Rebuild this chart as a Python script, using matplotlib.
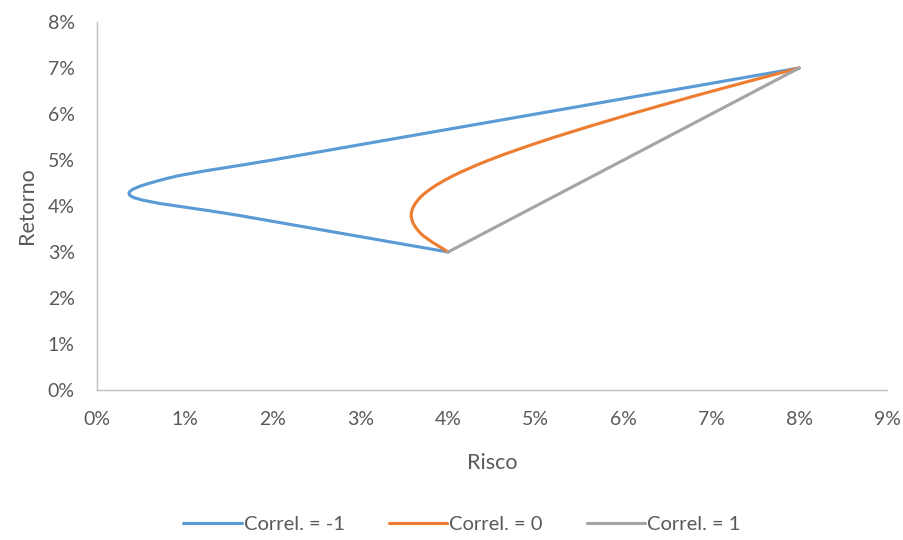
import numpy as np
import matplotlib.pyplot as plt
from matplotlib.path import Path
from matplotlib.patches import PathPatch
from matplotlib.lines import Line2D
from matplotlib.ticker import FuncFormatter

# portfolio points, weight of asset B from 0 to 1 in steps of 0.1 (values in %)
retorno = [3.0, 3.4, 3.8, 4.2, 4.6, 5.0, 5.4, 5.8, 6.2, 6.6, 7.0]
risco_neg = [4.0, 2.8, 1.6, 0.4, 0.8, 2.0, 3.2, 4.4, 5.6, 6.8, 8.0]
risco_zero = [4.0, 3.69, 3.58, 3.69, 4.0, 4.47, 5.06, 5.73, 6.45, 7.21, 8.0]
risco_pos = [4.0, 4.4, 4.8, 5.2, 5.6, 6.0, 6.4, 6.8, 7.2, 7.6, 8.0]

series_names = ['Correl. = -1', 'Correl. = 0', 'Correl. = 1']
series_colors = ['#5B9BD5', '#ED7D31', '#A5A5A5']

TXT = '#595959'
plt.rcParams['font.family'] = ['Lato', 'DejaVu Sans']


def smooth_path(xs, ys):
    # cubic bezier through every point (catmull-rom style, like a smoothed line)
    p = np.column_stack([xs, ys]).astype(float)
    n = len(p)
    verts = [p[0]]
    codes = [Path.MOVETO]
    for i in range(n - 1):
        p0 = p[i - 1] if i > 0 else p[i]
        p3 = p[i + 2] if i + 2 < n else p[i + 1]
        c1 = p[i] + (p[i + 1] - p0) / 6.0
        c2 = p[i + 1] - (p3 - p[i]) / 6.0
        verts += [c1, c2, p[i + 1]]
        codes += [Path.CURVE4] * 3
    return Path(verts, codes)


fig = plt.figure(figsize=(9.04, 5.4), dpi=100)
ax = fig.add_axes([0.1073, 0.2778, 0.8739, 0.6815])

handles = []
for xs, name, col in zip([risco_neg, risco_zero, risco_pos], series_names, series_colors):
    patch = PathPatch(smooth_path(xs, retorno), facecolor='none', edgecolor=col,
                      lw=2.25, capstyle='round', joinstyle='round')
    ax.add_patch(patch)
    handles.append(Line2D([], [], color=col, lw=2.25, solid_capstyle='round'))

ax.set_xlim(0, 9)
ax.set_ylim(0, 8)
ax.set_xticks(range(0, 10))
ax.set_yticks(range(0, 9))
pct = FuncFormatter(lambda v, pos: '%d%%' % v)
ax.xaxis.set_major_formatter(pct)
ax.yaxis.set_major_formatter(pct)
ax.tick_params(length=0, labelsize=14, colors=TXT, pad=15)
ax.tick_params(axis='y', pad=16)

for s in ['top', 'right']:
    ax.spines[s].set_visible(False)
for s in ['left', 'bottom']:
    ax.spines[s].set_color('#BFBFBF')
    ax.spines[s].set_linewidth(1.0)

ax.set_xlabel('Risco', fontsize=15.5, color=TXT, labelpad=18)
ax.set_ylabel('Retorno', fontsize=15.5, color=TXT, labelpad=8)

fig.legend(handles, series_names, loc='center', bbox_to_anchor=(0.5 + 10 / 904, 1 - 524 / 540),
           ncol=3, frameon=False, fontsize=14.5, handlelength=2.9, handletextpad=0.1,
           columnspacing=2.2, labelcolor=TXT)

fig.savefig('out.png', dpi=100)
